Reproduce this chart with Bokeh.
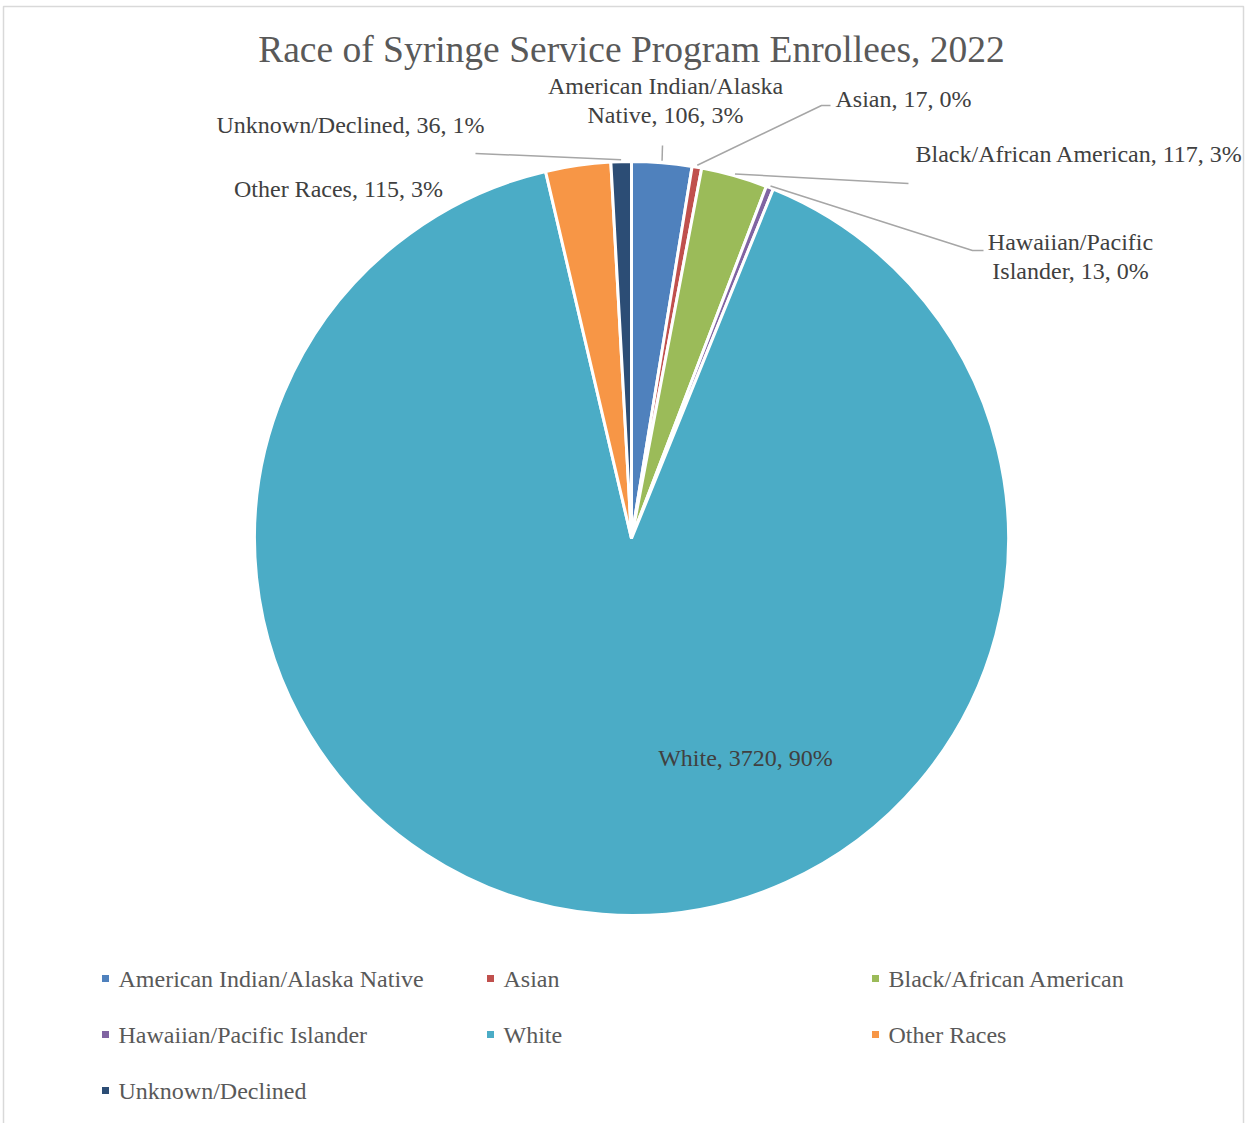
import numpy as np
from bokeh.plotting import figure
from bokeh.models import Range1d, ColumnDataSource
from bokeh.embed import file_html
from bokeh.resources import INLINE
from bokeh.core.properties import value

# ---------------- data ----------------
title = "Race of Syringe Service Program Enrollees, 2022"
categories = ["American Indian/Alaska Native", "Asian", "Black/African American",
              "Hawaiian/Pacific Islander", "White", "Other Races", "Unknown/Declined"]
counts = [106, 17, 117, 13, 3720, 115, 36]
colors = ["#4F81BD", "#C0504D", "#9BBB59", "#8064A2", "#4BACC6", "#F79646", "#2C4D75"]

# label line-break overrides (display only)
label_names = ["American Indian/Alaska\nNative", "Asian", "Black/African American",
               "Hawaiian/Pacific\nIslander", "White", "Other Races", "Unknown/Declined"]

# ---------------- layout (picture pixel coords) ----------------
W, H = 1245, 1123
IMG_H = 1139
def Y(py):
    return IMG_H - py

cx, cy, R = 631, 538, 377
label_pos = [(665, 100, "center"), (835, 98, "left"), (915, 153, "left"),
             (1070, 256, "center"), (745, 757, "center"), (338, 188, "center"),
             (350, 124, "center")]
leader_pts = {0: [(662, 145)], 1: [(821, 105), (830, 105)], 2: [(908, 183)],
              3: [(972, 250), (983, 250)], 6: [(475, 153)]}
legend_cols = [105, 490, 875]
legend_rows = [978, 1034, 1090]

FONT = "Liberation Serif"

# ---------------- computation ----------------
vals = np.array(counts, dtype=float)
total = vals.sum()
frac = vals / total
cum = np.concatenate([[0], np.cumsum(frac)])
start = np.pi / 2 - 2 * np.pi * cum[:-1]
end = np.pi / 2 - 2 * np.pi * cum[1:]
mid = (start + end) / 2
pcts = [int(round(f * 100)) for f in frac]

p = figure(width=W, height=H, output_backend="svg", toolbar_location=None,
           x_range=Range1d(0, W), y_range=Range1d(IMG_H - H, IMG_H),
           min_border=0, outline_line_color=None, background_fill_color="white",
           border_fill_color="white")
p.axis.visible = False
p.grid.visible = False

# chart border (left, top, right)
p.line([3, 3, 1243, 1243], [Y(1139), Y(6), Y(6), Y(1139)], line_color="#d9d9d9", line_width=1.5)

src = ColumnDataSource(dict(start=start, end=end, color=colors,
                            x=[cx] * len(vals), y=[Y(cy)] * len(vals)))
p.wedge(x="x", y="y", radius=R, start_angle="start", end_angle="end", direction="clock",
        fill_color="color", line_color="white", line_width=3, source=src)

# title
p.text(x=[cx], y=[Y(49)], text=[title], text_font=value(FONT), text_font_size="37.5px",
       text_color="#595959", text_align="center", text_baseline="middle")

# leader lines
xs, ys = [], []
for i, pts in leader_pts.items():
    sx = cx + (R + 2) * np.cos(mid[i])
    sy = cy - (R + 2) * np.sin(mid[i])
    xs.append([sx] + [q[0] for q in pts])
    ys.append([Y(sy)] + [Y(q[1]) for q in pts])
p.multi_line(xs, ys, line_color="#a6a6a6", line_width=1.5)

# data labels
for i in range(len(vals)):
    lx, ly, al = label_pos[i]
    txt = f"{label_names[i]}, {counts[i]}, {pcts[i]}%"
    p.text(x=[lx], y=[Y(ly)], text=[txt], text_font=value(FONT), text_font_size="24px",
           text_color="#404040", text_align=al, text_baseline="middle", text_line_height=1.08)

# legend
for i, name in enumerate(categories):
    lx = legend_cols[i % 3]
    ly = legend_rows[i // 3]
    p.scatter([lx], [Y(ly)], marker="square", size=7, fill_color=colors[i], line_color=None)
    p.text(x=[lx + 13], y=[Y(ly)], text=[name], text_font=value(FONT), text_font_size="24px",
           text_color="#595959", text_align="left", text_baseline="middle")

open("out.html", "w").write(file_html(p, INLINE))
